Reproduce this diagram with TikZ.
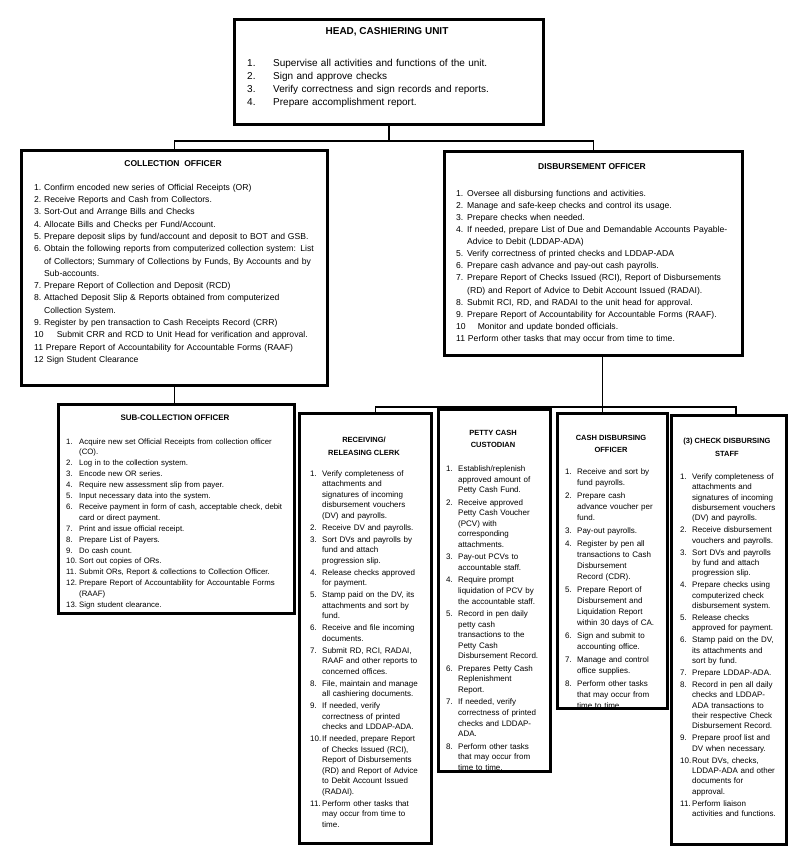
\documentclass[tikz,border=0pt]{standalone}
\usepackage{fontspec}
\setmainfont{Liberation Sans}
\setlength{\parindent}{0pt}
\newlength{\dutyindent}
\newcommand{\duty}[2]{\noindent\hangindent=\dutyindent\hangafter=1\makebox[\dutyindent][l]{#1}#2\par}

\begin{document}
\begin{tikzpicture}[x=1pt,y=-1pt,
  unitbox/.style={draw,line width=2.8pt,inner sep=0pt,anchor=north west},
  boxtitle/.style={inner sep=0pt,anchor=north,align=center,font=\bfseries\fontsize{#1}{12.5}\selectfont},
  dutylist/.style={inner sep=0pt,anchor=north west,text width=#1},
  link/.style={line width=1.6pt}]
  \useasboundingbox (0,0) rectangle (800,855);
  % head of the unit
  \node[unitbox,minimum width=309pt,minimum height=105pt] (head) at (233,18) {};
  \node[boxtitle=10] (headtitle) at (387,27.5) {HEAD, CASHIERING UNIT};
  \node[dutylist=280pt,font=\fontsize{10}{13}\selectfont] (headduties) at (247,59.3) {\setlength{\dutyindent}{26pt}%
    \duty{1.}{Supervise all activities and functions of the unit.}%
    \duty{2.}{Sign and approve checks}%
    \duty{3.}{Verify correctness and sign records and reports.}%
    \duty{4.}{Prepare accomplishment report.}};
  % collection officer
  \node[unitbox,minimum width=306pt,minimum height=235pt] (coll) at (20,149) {};
  \node[boxtitle=8.5] (colltitle) at (173,160) {COLLECTION\ \ OFFICER};
  \node[dutylist=282pt,font=\fontsize{8.6}{12.3}\selectfont] (collduties) at (34,183.8) {\setlength{\dutyindent}{10pt}\tolerance=10000%
    \duty{1.}{Confirm encoded new series of Official Receipts (OR)}%
    \duty{2.}{Receive Reports and Cash from Collectors.}%
    \duty{3.}{Sort-Out and Arrange Bills and Checks}%
    \duty{4.}{Allocate Bills and Checks per Fund/Account.}%
    \duty{5.}{Prepare deposit slips by fund/account and deposit to BOT and GSB.}%
    \duty{6.}{Obtain the following reports from computerized collection system: List\linebreak of Collectors; Summary of Collections by Funds, By Accounts and by\linebreak Sub-accounts.}%
    \duty{7.}{Prepare Report of Collection and Deposit (RCD)}%
    \duty{8.}{Attached Deposit Slip \& Reports obtained from computerized\linebreak Collection System.}%
    \duty{9.}{Register by pen transaction to Cash Receipts Record (CRR)}%
    \noindent 10\hspace{13pt}Submit CRR and RCD to Unit Head for verification and approval.\par
    \noindent 11 Prepare Report of Accountability for Accountable Forms (RAAF)\par
    \noindent 12 Sign Student Clearance\par};
  % disbursement officer
  \node[unitbox,minimum width=298pt,minimum height=204pt] (disb) at (443,150) {};
  \node[boxtitle=8.5] (disbtitle) at (592,163) {DISBURSEMENT OFFICER};
  \node[dutylist=280pt,font=\fontsize{8.6}{12.1}\selectfont] (disbduties) at (456,189.8) {\setlength{\dutyindent}{11pt}%
    \duty{1.}{Oversee all disbursing functions and activities.}%
    \duty{2.}{Manage and safe-keep checks and control its usage.}%
    \duty{3.}{Prepare checks when needed.}%
    \duty{4.}{If needed, prepare List of Due and Demandable Accounts Payable-\newline Advice to Debit (LDDAP-ADA)}%
    \duty{5.}{Verify correctness of printed checks and LDDAP-ADA}%
    \duty{6.}{Prepare cash advance and pay-out cash payrolls.}%
    \duty{7.}{Prepare Report of Checks Issued (RCI), Report of Disbursements\newline (RD) and Report of Advice to Debit Account Issued (RADAI).}%
    \duty{8.}{Submit RCI, RD, and RADAI to the unit head for approval.}%
    \duty{9.}{Prepare Report of Accountability for Accountable Forms (RAAF).}%
    \noindent 10\hspace{12pt}Monitor and update bonded officials.\par
    \noindent 11 Perform other tasks that may occur from time to time.\par};
  % sub-collection officer
  \node[unitbox,minimum width=236pt,minimum height=209pt] (sub) at (57,403) {};
  \node[boxtitle=8] (subtitle) at (175,415) {SUB-COLLECTION OFFICER};
  \node[dutylist=224pt,font=\fontsize{7.8}{10.9}\selectfont] (subduties) at (66,438.2) {\setlength{\dutyindent}{13pt}%
    \duty{1.}{Acquire new set Official Receipts from collection officer\newline (CO).}%
    \duty{2.}{Log in to the collection system.}%
    \duty{3.}{Encode new OR series.}%
    \duty{4.}{Require new assessment slip from payer.}%
    \duty{5.}{Input necessary data into the system.}%
    \duty{6.}{Receive payment in form of cash, acceptable check, debit\newline card or direct payment.}%
    \duty{7.}{Print and issue official receipt.}%
    \duty{8.}{Prepare List of Payers.}%
    \duty{9.}{Do cash count.}%
    \duty{10.}{Sort out copies of ORs.}%
    \duty{11.}{Submit ORs, Report \& collections to Collection Officer.}%
    \duty{12.}{Prepare Report of Accountability for Accountable Forms\newline (RAAF)}%
    \duty{13.}{Sign student clearance.}};
  % receiving / releasing clerk
  \node[unitbox,minimum width=132pt,minimum height=430pt] (recv) at (298,412) {};
  \node[boxtitle=7.5] (recvtitle) at (364,437) {RECEIVING/\\RELEASING CLERK};
  \node[dutylist=116pt,font=\fontsize{8}{10.5}\selectfont] (recvduties) at (310,470.2) {\setlength{\dutyindent}{12pt}\setlength{\parskip}{1.5pt}%
    \duty{1.}{Verify completeness of\newline attachments and\newline signatures of incoming\newline disbursement vouchers\newline (DV) and payrolls.}%
    \duty{2.}{Receive DV and payrolls.}%
    \duty{3.}{Sort DVs and payrolls by\newline fund and attach\newline progression slip.}%
    \duty{4.}{Release checks approved\newline for payment.}%
    \duty{5.}{Stamp paid on the DV, its\newline attachments and sort by\newline fund.}%
    \duty{6.}{Receive and file incoming\newline documents.}%
    \duty{7.}{Submit RD, RCI, RADAI,\newline RAAF and other reports to\newline concerned offices.}%
    \duty{8.}{File, maintain and manage\newline all cashiering documents.}%
    \duty{9.}{If needed, verify\newline correctness of printed\newline checks and LDDAP-ADA.}%
    \duty{10.}{If needed, prepare Report\newline of Checks Issued (RCI),\newline Report of Disbursements\newline (RD) and Report of Advice\newline to Debit Account Issued\newline (RADAI).}%
    \duty{11.}{Perform other tasks that\newline may occur from time to\newline time.}};
  % petty cash custodian
  \node[unitbox,minimum width=112pt,minimum height=362pt] (petty) at (437,408) {};
  \node[boxtitle=7.5] (pettytitle) at (493,430) {PETTY CASH\\CUSTODIAN};
  \begin{scope}
    \clip (petty.north west) rectangle (petty.south east);
    \node[dutylist=100pt,font=\fontsize{8}{10.6}\selectfont] (pettyduties) at (446,465.5) {\setlength{\dutyindent}{12pt}\setlength{\parskip}{1.8pt}%
      \duty{1.}{Establish/replenish\newline approved amount of\newline Petty Cash Fund.}%
      \duty{2.}{Receive approved\newline Petty Cash Voucher\newline (PCV) with\newline corresponding\newline attachments.}%
      \duty{3.}{Pay-out PCVs to\newline accountable staff.}%
      \duty{4.}{Require prompt\newline liquidation of PCV by\newline the accountable staff.}%
      \duty{5.}{Record in pen daily\newline petty cash\newline transactions to the\newline Petty Cash\newline Disbursement Record.}%
      \duty{6.}{Prepares Petty Cash\newline Replenishment\newline Report.}%
      \duty{7.}{If needed, verify\newline correctness of printed\newline checks and LDDAP-\newline ADA.}%
      \duty{8.}{Perform other tasks\newline that may occur from\newline time to time.}};
  \end{scope}
  % cash disbursing officer
  \node[unitbox,minimum width=110pt,minimum height=295pt] (cash) at (556,412) {};
  \node[boxtitle=7.5] (cashtitle) at (611,435) {CASH DISBURSING\\OFFICER};
  \begin{scope}
    \clip (cash.north west) rectangle (cash.south east);
    \node[dutylist=98pt,font=\fontsize{8}{11}\selectfont] (cashduties) at (565,468.2) {\setlength{\dutyindent}{12pt}\setlength{\parskip}{2pt}%
      \duty{1.}{Receive and sort by\newline fund payrolls.}%
      \duty{2.}{Prepare cash\newline advance voucher per\newline fund.}%
      \duty{3.}{Pay-out payrolls.}%
      \duty{4.}{Register by pen all\newline transactions to Cash\newline Disbursement\newline Record (CDR).}%
      \duty{5.}{Prepare Report of\newline Disbursement and\newline Liquidation Report\newline within 30 days of CA.}%
      \duty{6.}{Sign and submit to\newline accounting office.}%
      \duty{7.}{Manage and control\newline office supplies.}%
      \duty{8.}{Perform other tasks\newline that may occur from\newline time to time.}};
  \end{scope}
  % check disbursing staff
  \node[unitbox,minimum width=115pt,minimum height=429pt] (check) at (670,414) {};
  \node[boxtitle=7.5] (checktitle) at (727,438) {(3) CHECK DISBURSING\\STAFF};
  \node[dutylist=102pt,font=\fontsize{8}{10.4}\selectfont] (checkduties) at (680,473.2) {\setlength{\dutyindent}{12pt}\setlength{\parskip}{1.5pt}%
    \duty{1.}{Verify completeness of\newline attachments and\newline signatures of incoming\newline disbursement vouchers\newline (DV) and payrolls.}%
    \duty{2.}{Receive disbursement\newline vouchers and payrolls.}%
    \duty{3.}{Sort DVs and payrolls\newline by fund and attach\newline progression slip.}%
    \duty{4.}{Prepare checks using\newline computerized check\newline disbursement system.}%
    \duty{5.}{Release checks\newline approved for payment.}%
    \duty{6.}{Stamp paid on the DV,\newline its attachments and\newline sort by fund.}%
    \duty{7.}{Prepare LDDAP-ADA.}%
    \duty{8.}{Record in pen all daily\newline checks and LDDAP-\newline ADA transactions to\newline their respective Check\newline Disbursement Record.}%
    \duty{9.}{Prepare proof list and\newline DV when necessary.}%
    \duty{10.}{Rout DVs, checks,\newline LDDAP-ADA and other\newline documents for\newline approval.}%
    \duty{11.}{Perform liaison\newline activities and functions.}};
  % connectors
  \draw[link] (head.south) -- ++(0,15) coordinate (split);
  \draw[link] (coll.north) |- (split) -| (disb.north);
  \draw[link] (coll.south) -- (coll.south |- sub.north);
  \draw[link] ([xshift=9pt]disb.south) -- ++(0,50) coordinate (fork);
  \draw[link] ([xshift=10pt]recv.north) |- (fork) -| ([xshift=7pt]check.north);
  \draw[link] (petty.north) -- (petty.north |- fork);
  \draw[link] (fork) -- (fork |- cash.north);
\end{tikzpicture}
\end{document}
